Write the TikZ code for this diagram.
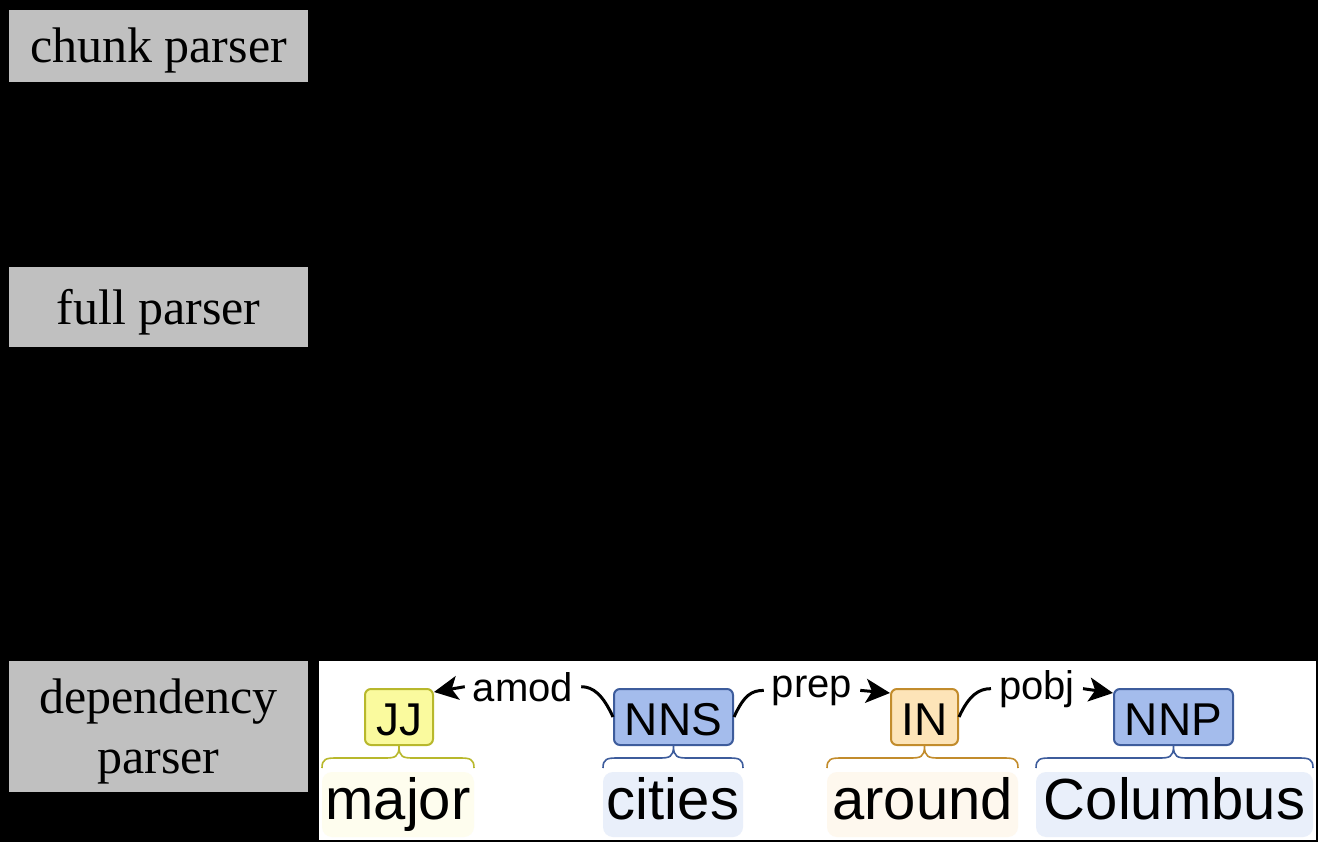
\documentclass[tikz,border=0pt]{standalone}
\usepackage{fontspec}
\setmainfont{Liberation Serif}
\newfontfamily\depfont{Liberation Sans}
\usetikzlibrary{arrows.meta}
\definecolor{graybox}{HTML}{C0C0C0}
\definecolor{jjfill}{HTML}{FAFA9E}
\definecolor{jjdraw}{HTML}{B8B82C}
\definecolor{nnfill}{HTML}{A4BCEC}
\definecolor{nndraw}{HTML}{3D5C9C}
\definecolor{infill}{HTML}{FDE4B8}
\definecolor{indraw}{HTML}{C28C2C}
\definecolor{majorbg}{HTML}{FEFDEE}
\definecolor{bluebg}{HTML}{E9EFFA}
\definecolor{aroundbg}{HTML}{FEF8EE}
\newcommand\dpbrace[4]{\draw[#4, line width=1.6pt] (#1,768) .. controls (#1,759) and (#1+4,758) .. (#1+14,758) -- (#2-14,758) .. controls (#2-4,758) and (#2,757) .. (#2,746) .. controls (#2,757) and (#2+4,758) .. (#2+14,758) -- (#3-14,758) .. controls (#3-4,758) and (#3,759) .. (#3,768);}
\begin{document}
\begin{tikzpicture}[x=1pt,y=-1pt,
  grayrect/.style={fill=graybox, inner sep=0pt, minimum width=299pt},
  labtext/.style={anchor=base, inner sep=0pt, font=\fontsize{50}{60}\selectfont},
  tag/.style={draw, line width=2pt, rounded corners=6pt, minimum height=56pt, inner sep=0pt, text height=36pt, text depth=0pt, font=\depfont\fontsize{46}{50}\selectfont},
  rel/.style={inner sep=8pt, anchor=base, font=\depfont\fontsize{40}{48}\selectfont},
  arc/.style={line width=3pt},
  arr/.style={line width=3pt, -{Stealth[length=24pt,width=24pt,inset=6pt]}},
  word/.style={rounded corners=10pt, minimum height=65pt, inner sep=0pt, text height=42pt, text depth=12pt, font=\depfont\fontsize{58}{60}\selectfont},
  ]
\useasboundingbox (0,0) rectangle (1318,842);
\fill[black] (0,0) rectangle (1318,842);

% left labels
\node[grayrect, minimum height=72pt] (chunkbox) at (158.5,46) {};
\node[labtext] (chunktxt) at (158.5,63) {chunk parser};
\node[grayrect, minimum height=80pt] (fullbox) at (158.5,307) {};
\node[labtext] (fulltxt) at (158.5,325) {full parser};
\node[grayrect, minimum height=131pt] (depbox) at (158.5,726.5) {};
\node[labtext] (deptxt1) at (158.5,713) {dependency};
\node[labtext] (deptxt2) at (158.5,773) {parser};

% white panel
\fill[white] (319,661) rectangle (1316,840);

% word backgrounds
\node[word, fill=majorbg, minimum width=152pt] (major) at (398,804.5) {major};
\node[word, fill=bluebg, minimum width=140pt] (cities) at (673,804.5) {cities};
\node[word, fill=aroundbg, minimum width=191pt] (around) at (922.5,804.5) {around};
\node[word, fill=bluebg, minimum width=277pt] (columbus) at (1174.5,804.5) {Columbus};

% braces
\dpbrace{322}{399}{474}{jjdraw}
\dpbrace{603}{673.5}{743}{nndraw}
\dpbrace{827}{924.5}{1018}{indraw}
\dpbrace{1036}{1173.5}{1313}{nndraw}

% tags
\node[tag, fill=jjfill, draw=jjdraw, minimum width=68pt] (jj) at (399,717) {JJ};
\node[tag, fill=nnfill, draw=nndraw, minimum width=119pt] (nns) at (673.5,717) {NNS};
\node[tag, fill=infill, draw=indraw, minimum width=67pt] (inn) at (924.5,717) {IN};
\node[tag, fill=nnfill, draw=nndraw, minimum width=119pt] (nnp) at (1173.5,717) {NNP};

% relation labels
\node[rel] (amod) at (523,701) {amod};
\node[rel] (prep) at (812,697) {prep};
\node[rel] (pobj) at (1037,699) {pobj};

% arcs
\draw[arc] (nns.west) .. controls +(-10,-22) and +(12,0) .. (amod.east);
\draw[arr] (amod.west) -- ([yshift=-4pt]jj.north east);
\draw[arc] (nns.east) .. controls +(10,-22) and +(-12,0) .. (prep.west);
\draw[arr] (prep.east) -- ([yshift=-5pt]inn.north west);
\draw[arc] (inn.east) .. controls +(10,-22) and +(-12,0) .. (pobj.west);
\draw[arr] (pobj.east) -- ([yshift=-5pt]nnp.north west);
\end{tikzpicture}
\end{document}
